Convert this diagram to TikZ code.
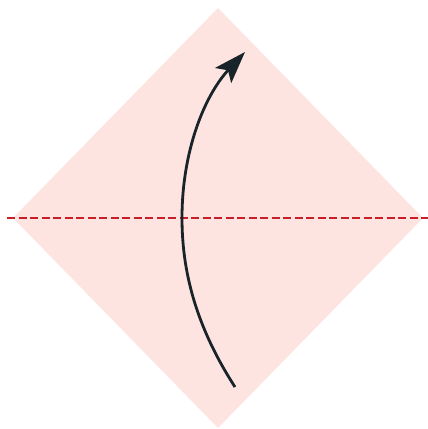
\documentclass[tikz,border=0pt]{standalone}
\usetikzlibrary{arrows.meta}
\definecolor{paper}{RGB}{253,228,224}
\definecolor{fold}{RGB}{200,30,40}
\definecolor{arrowc}{RGB}{24,36,42}
\tikzset{
  sheet/.style={fill=paper,draw=none},
  valley/.style={draw=fold,line width=1.8pt,dash pattern=on 8pt off 3.5pt},
  turn/.style={draw=arrowc,line width=2.8pt,-{Stealth[length=32pt,width=22pt,inset=7pt]}}
}

\begin{document}
\begin{tikzpicture}[x=1pt,y=-1pt]
  \useasboundingbox (0,0) rectangle (428,429);
  % the square sheet, corner up
  \coordinate (top) at (218,8);
  \coordinate (rgt) at (423,218);
  \coordinate (bot) at (218,428);
  \coordinate (lft) at (13,218);
  \fill[sheet] (top) -- (rgt) -- (bot) -- (lft) -- cycle;
  % fold line
  \coordinate (fl) at (7,218);
  \coordinate (fr) at (428,218);
  \draw[valley] (fl) -- (fr);
  % fold the bottom up
  \coordinate (from) at (235,387);
  \coordinate (mid) at (182,218);
  \coordinate (to) at (245,52);
  \draw[turn] (from) .. controls (195,325) and (182,270) .. (mid)
    .. controls (182,150) and (205,95) .. (to);
\end{tikzpicture}
\end{document}
